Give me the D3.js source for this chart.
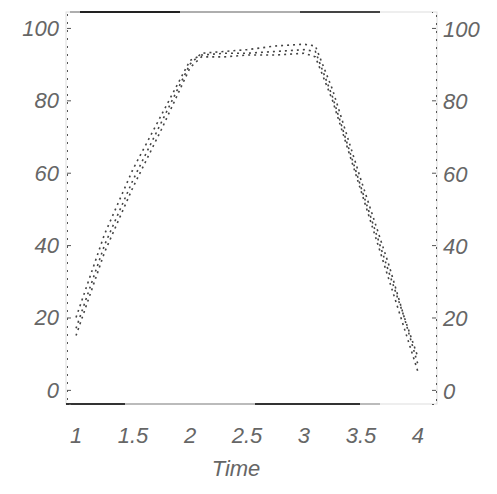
<!DOCTYPE html>
<html>
<head>
<meta charset="utf-8">
<script src="https://cdn.jsdelivr.net/npm/d3@7"></script>
<style>
body{margin:0;background:#fff;}
text{font-family:"Liberation Sans",sans-serif;font-style:italic;fill:#666;}
</style>
</head>
<body>
<script>
var times=[1,1.25,1.5,1.75,2,2.1,2.3,2.5,2.75,3,3.1,3.25,3.5,3.75,4]
var run_a=[17,40,58,74,90,93,93.5,94,95,95.5,95,83,58,34,7]
var run_b=[20,43,61,76,91,92.5,93,93,93.5,94,93.5,81,56,32,9]
var run_c=[15,38,56,72,89,92,92,92.5,92.5,93,92,80,55,30,5]
var x_ticks=[1,1.5,2,2.5,3,3.5,4]
var y_ticks=[0,20,40,60,80,100]

var svg_width=497, svg_height=494
var svg=d3.select('body').append('svg')
  .attr('width',svg_width).attr('height',svg_height)

var xScale=d3.scaleLinear().domain([0.912,4.167]).range([66,437])
var yScale=d3.scaleLinear().domain([-3.9,104.4]).range([404,12])

// frame, darker where the scan kept it
svg.append('rect')
  .attr('x',66).attr('y',12).attr('width',371).attr('height',392)
  .attr('fill','none').attr('stroke','#ddd').attr('stroke-width',1)
svg.append('line').attr('x1',70).attr('x2',380).attr('y1',12).attr('y2',12)
  .attr('stroke','#999').attr('stroke-width',1.5)
svg.append('line').attr('x1',80).attr('x2',180).attr('y1',12).attr('y2',12)
  .attr('stroke','#222').attr('stroke-width',2)
svg.append('line').attr('x1',300).attr('x2',380).attr('y1',12).attr('y2',12)
  .attr('stroke','#444').attr('stroke-width',2)
svg.append('line').attr('x1',66).attr('x2',380).attr('y1',404).attr('y2',404)
  .attr('stroke','#aaa').attr('stroke-width',1.5)
svg.append('line').attr('x1',66).attr('x2',125).attr('y1',404).attr('y2',404)
  .attr('stroke','#333').attr('stroke-width',2)
svg.append('line').attr('x1',255).attr('x2',360).attr('y1',404).attr('y2',404)
  .attr('stroke','#333').attr('stroke-width',2)

var left_axis=d3.axisRight(yScale).tickValues(y_ticks).tickSize(4).tickFormat('')
svg.append('g').attr('transform','translate(67,0)').call(left_axis)
var right_axis=d3.axisLeft(yScale).tickValues(y_ticks).tickSize(4).tickFormat('')
svg.append('g').attr('transform','translate(436,0)').call(right_axis)
svg.selectAll('.domain').attr('stroke','#555').attr('stroke-dasharray','2,6')
svg.selectAll('.tick line').attr('stroke','#555')

svg.selectAll('.ylab-left').data(y_ticks).enter().append('text')
  .attr('x',59).attr('y',function(d){return yScale(d)+8})
  .attr('text-anchor','end').attr('font-size',22).text(function(d){return d})
svg.selectAll('.ylab-right').data(y_ticks).enter().append('text')
  .attr('x',443).attr('y',function(d){return yScale(d)+9})
  .attr('font-size',22).text(function(d){return d})
svg.selectAll('.xlab').data(x_ticks).enter().append('text')
  .attr('x',function(d){return xScale(d)}).attr('y',443)
  .attr('text-anchor','middle').attr('font-size',22).text(function(d){return d})
svg.append('text').attr('x',236).attr('y',476).attr('text-anchor','middle')
  .attr('font-size',22).text('Time')

var line=d3.line()
  .x(function(d,i){return xScale(times[i])})
  .y(function(d){return yScale(d)})
var runs=[run_a,run_b,run_c]
svg.selectAll('.run').data(runs).enter().append('path')
  .attr('d',line).attr('fill','none')
  .attr('stroke','#444').attr('stroke-width',1.6)
  .attr('stroke-dasharray','2,4')
</script>
</body>
</html>
